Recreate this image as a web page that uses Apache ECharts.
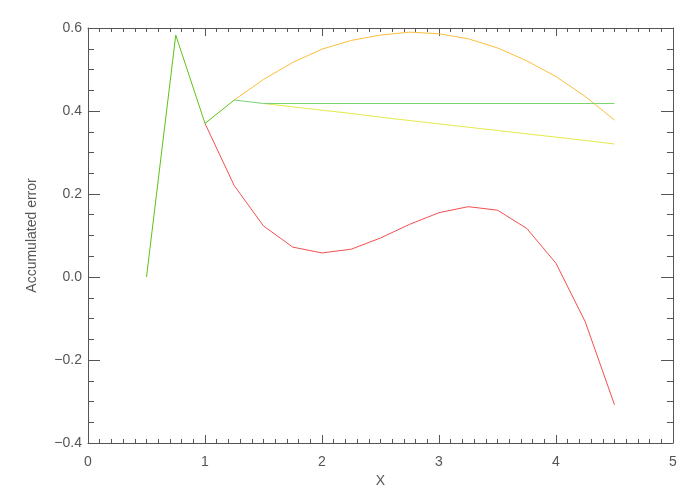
<!DOCTYPE html>
<html>
<head>
    <meta charset="utf-8">
    <title>Accumulated error</title>
    <script type="text/javascript" src="https://cdn.jsdelivr.net/npm/echarts@6/dist/echarts.min.js"></script>
    <style>html,body{margin:0;padding:0;background:#fff;}</style>
</head>
<body>
<div id="main" style="width:700px;height:500px;"></div>

<script type="text/javascript">
    // x 取值
    var xStart = [0.5, 0.75, 1.0, 1.25];
    var xRed = [1.0, 1.25, 1.5, 1.75, 2.0, 2.25, 2.5, 2.75, 3.0, 3.25, 3.5, 3.75, 4.0, 4.25, 4.5];
    var xOrange = [1.25, 1.5, 1.75, 2.0, 2.25, 2.5, 2.75, 3.0, 3.25, 3.5, 3.75, 4.0, 4.25, 4.5];
    var xYellow = [1.5, 1.75, 2.0, 2.25, 2.5, 2.75, 3.0, 3.25, 3.5, 3.75, 4.0, 4.25, 4.5];
    var xFlat = [1.25, 1.5, 4.5];

    // 累计误差
    var yStart = [0.0, 0.583, 0.370, 0.4265];
    var yRed = [0.370, 0.220, 0.123, 0.072, 0.058, 0.067, 0.094, 0.127, 0.155, 0.1695, 0.161, 0.117, 0.033, -0.108, -0.308];
    var yOrange = [0.4265, 0.476, 0.517, 0.549, 0.570, 0.583, 0.590, 0.586, 0.574, 0.552, 0.521, 0.483, 0.435, 0.378];
    var yYellow = [0.418, 0.410, 0.402, 0.394, 0.385, 0.377, 0.369, 0.361, 0.353, 0.345, 0.337, 0.329, 0.3205];
    var yFlat = [0.4265, 0.418, 0.418];

    function pairs(xs, ys) {
        return xs.map(function (x, i) { return [x, ys[i]]; });
    }

    var chart = echarts.init(document.getElementById('main'));
    var font = 'Liberation Sans';
    var axisColor = '#555';

    function xAxis(pos, showLabel) {
        return {
            type: 'value',
            position: pos,
            min: 0, max: 5, interval: 1,
            name: showLabel ? 'X' : '',
            nameLocation: 'middle',
            nameGap: 29,
            nameTextStyle: {color: axisColor, fontSize: 14, fontFamily: font},
            axisLine: {show: true, onZero: false, lineStyle: {color: axisColor, width: 1}},
            axisTick: {show: true, inside: true, length: 8, lineStyle: {color: axisColor}},
            minorTick: {show: true, splitNumber: 10, length: 4, lineStyle: {color: axisColor}},
            axisLabel: {show: showLabel, color: axisColor, fontSize: 14, fontFamily: font, margin: 12},
            splitLine: {show: false}
        };
    }

    function yAxis(pos, showLabel) {
        return {
            type: 'value',
            position: pos,
            min: -0.4, max: 0.6, interval: 0.2,
            name: showLabel ? 'Accumulated error' : '',
            nameLocation: 'middle',
            nameGap: 49,
            nameTextStyle: {color: axisColor, fontSize: 14, fontFamily: font},
            axisLine: {show: true, onZero: false, lineStyle: {color: axisColor, width: 1}},
            axisTick: {show: true, inside: true, length: 12, lineStyle: {color: axisColor}},
            minorTick: {show: true, splitNumber: 4, length: 6, lineStyle: {color: axisColor}},
            axisLabel: {
                show: showLabel, color: axisColor, fontSize: 14, fontFamily: font, margin: 6,
                formatter: function (v) {
                    var s = Math.abs(v).toFixed(1);
                    return v < -1e-9 ? '\u2212' + s : s;
                }
            },
            splitLine: {show: false}
        };
    }

    function line(name, data, color) {
        return {
            name: name,
            type: 'line',
            data: data,
            showSymbol: false,
            symbol: 'none',
            lineStyle: {color: color, width: 1},
            xAxisIndex: 0,
            yAxisIndex: 0
        };
    }

    var option = {
        backgroundColor: '#fff',
        animation: false,
        grid: {left: 88, right: 27, top: 28, bottom: 57, containLabel: false},
        xAxis: [xAxis('bottom', true), xAxis('top', false)],
        yAxis: [yAxis('left', true), yAxis('right', false)],
        series: [
            line('red', pairs(xRed, yRed), '#f25050'),
            line('orange', pairs(xOrange, yOrange), '#fcbf3c'),
            line('yellow', pairs(xYellow, yYellow), '#e6e84a'),
            line('flat', pairs(xFlat, yFlat), '#78d46e'),
            line('start', pairs(xStart, yStart), '#5cc414')
        ]
    };
    chart.setOption(option);
</script>
</body>
</html>
